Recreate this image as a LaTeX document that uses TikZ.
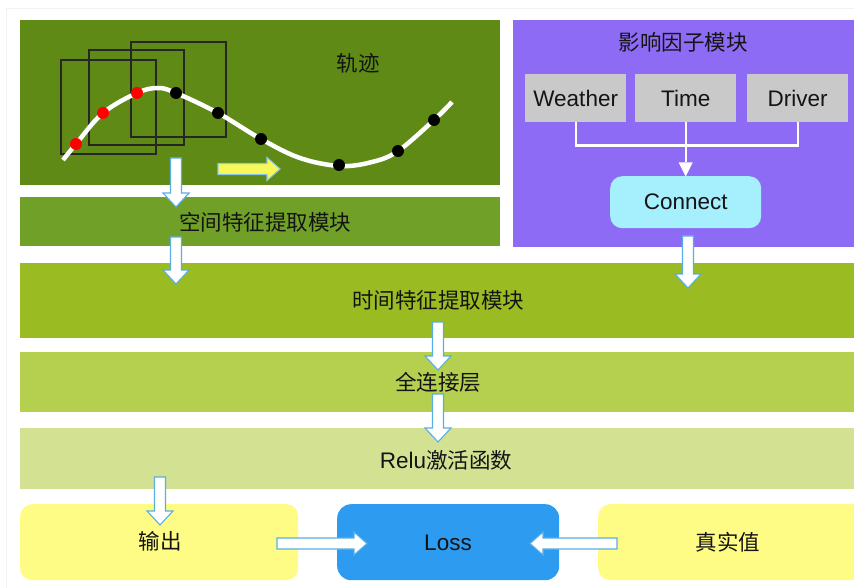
\documentclass[tikz,border=0pt]{standalone}
\usepackage{fontspec}
\usetikzlibrary{calc}
\setmainfont{Liberation Sans}
\newfontfamily\cjk{Noto Sans CJK SC}
\definecolor{trajg}{HTML}{5F8A15}
\definecolor{spatg}{HTML}{70A027}
\definecolor{purp}{HTML}{8E6BF5}
\definecolor{timeg}{HTML}{9BBB23}
\definecolor{fcg}{HTML}{B5CF4F}
\definecolor{relug}{HTML}{D2E192}
\definecolor{yel}{HTML}{FEFC84}
\definecolor{lossb}{HTML}{2D9BF0}
\definecolor{conn}{HTML}{A6EFFC}
\definecolor{grayb}{HTML}{C9C9C9}
\definecolor{arrowl}{HTML}{5AAEE3}
\definecolor{yarrow}{HTML}{F8F858}
\definecolor{txt}{HTML}{141414}
\tikzset{
  band/.style={draw=none, rectangle, anchor=north west, inner sep=0pt},
  rbox/.style={draw=none, rectangle, rounded corners=12pt, anchor=north west, inner sep=0pt},
  gbox/.style={draw=none, rectangle, fill=grayb, anchor=north west, inner sep=0pt, minimum width=101pt, minimum height=48pt, font=\fontsize{22.5}{25}\selectfont, text=txt},
  zh/.style={font=\cjk\fontsize{21.5}{24}\selectfont, text=txt, inner sep=0pt},
  en/.style={font=\fontsize{22.5}{25}\selectfont, text=txt, inner sep=0pt},
  blk/.style={draw=arrowl, fill=white, line width=1.1pt, line join=miter},
  wline/.style={draw=white, line width=2.4pt},
}
\newcommand\blkdown[3]{\draw[blk] ({#1-5.5},#2) -- ({#1+5.5},#2) -- ({#1+5.5},{#3-14}) -- ({#1+13},{#3-14}) -- (#1,#3) -- ({#1-13},{#3-14}) -- ({#1-5.5},{#3-14}) -- cycle;}
\newcommand\blkright[4][blk]{\draw[#1] (#2,{#3-5.5}) -- ({#4-13},{#3-5.5}) -- ({#4-13},{#3-11.5}) -- (#4,#3) -- ({#4-13},{#3+11.5}) -- ({#4-13},{#3+5.5}) -- (#2,{#3+5.5}) -- cycle;}
\newcommand\blkleft[3]{\draw[blk] (#1,{#2-5.5}) -- ({#3+13},{#2-5.5}) -- ({#3+13},{#2-11.5}) -- (#3,#2) -- ({#3+13},{#2+11.5}) -- ({#3+13},{#2+5.5}) -- (#1,{#2+5.5}) -- cycle;}
\begin{document}
\begin{tikzpicture}[x=1pt,y=-1pt]
\useasboundingbox (0,0) rectangle (854,588);
\fill[white] (0,0) rectangle (854,588);
\draw[gray!10, line width=0.8pt] (6,588) -- (6,8) -- (854,8);
% bands
\node[band, fill=trajg, minimum width=480pt, minimum height=165pt] (traj) at (20,20) {};
\node[band, fill=spatg, minimum width=480pt, minimum height=49pt] (spat) at (20,197) {};
\node[band, fill=purp, minimum width=341pt, minimum height=227pt] (factor) at (513,20) {};
\node[band, fill=timeg, minimum width=834pt, minimum height=75pt] (timeb) at (20,263) {};
\node[band, fill=fcg, minimum width=834pt, minimum height=60pt] (fc) at (20,352) {};
\node[band, fill=relug, minimum width=834pt, minimum height=61pt] (relu) at (20,428) {};
\node[rbox, fill=yel, minimum width=278pt, minimum height=76pt] (out) at (20,504) {};
\node[rbox, fill=lossb, minimum width=222pt, minimum height=76pt, rounded corners=14pt] (loss) at (337,504) {};
\node[rbox, fill=yel, minimum width=270pt, minimum height=76pt] (truth) at (598,504) {};
% texts
\node[zh] (ttraj) at (358,63) {轨迹};
\node[zh] (tspat) at (265,222) {空间特征提取模块};
\node[zh] (tfactor) at (683,42) {影响因子模块};
\node[zh] (ttime) at (438,300) {时间特征提取模块};
\node[zh] (tfc) at (438,382) {全连接层};
\node[en] (trelu) at (446,460) {Relu{\cjk\fontsize{21.5}{24}\selectfont 激活函数}};
\node[zh] (tout) at (160,541) {输出};
\node[en] (tloss) at (448,543) {Loss};
\node[zh] (ttruth) at (728,542) {真实值};
% factor module
\node[gbox] (weather) at (525,74) {Weather};
\node[gbox] (timef) at (635,74) {Time};
\node[gbox] (driver) at (747,74) {Driver};
\node[rbox, fill=conn, minimum width=151pt, minimum height=52pt, en] (connect) at (610,176) {Connect};
\draw[wline] (weather.south) -- ++(0,23) -| (driver.south);
\draw[wline] (timef.south) -- ++(0,40);
\fill[white] ($(connect.north)+(0,0.5)$) -- ++(-7,-14) -- ++(14,0) -- cycle;
% trajectory drawing
\draw[line width=1.3pt, draw=black!85] (61,60) rectangle (156,154);
\draw[line width=1.3pt, draw=black!85] (89,50) rectangle (184,145);
\draw[line width=1.3pt, draw=black!85] (131,42) rectangle (226,137);
\draw[white, line width=4.5pt] plot[smooth, tension=0.6] coordinates {(63,160) (76,144) (103,113) (137,93) (158,88) (176,93) (218,113) (261,139) (300,158) (340,166) (372,162) (398,151) (434,120) (452,102)};
\foreach \p in {(76,144),(103,113),(137,93)} \fill[red] \p circle (6);
\foreach \p in {(176,93),(218,113),(261,139),(339,165),(398,151),(434,120)} \fill[black] \p circle (6);
\blkright[blk, fill=yarrow, draw=arrowl!70]{218}{169}{280}
% block arrows
\blkdown{176}{158}{207}
\blkdown{176}{237}{284}
\blkdown{688}{236}{288}
\blkdown{438}{322}{370}
\blkdown{438}{394}{442}
\blkdown{160}{477}{525}
\blkright{277}{543.5}{367}
\blkleft{617}{543.5}{530}
\end{tikzpicture}
\end{document}
